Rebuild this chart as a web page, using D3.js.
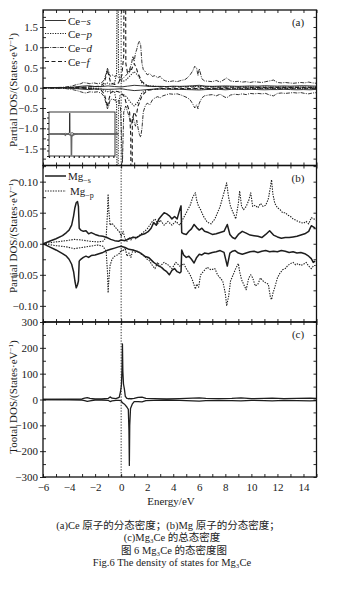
<!DOCTYPE html>
<html>
<head>
<meta charset="utf-8">
<script src="https://cdn.jsdelivr.net/npm/d3@7"></script>
<style>
  body { margin: 0; background: #fff; }
  svg { display: block; }
  text { font-family: "Liberation Serif", "DejaVu Serif", serif; fill: #1a1a1a; }
  .cjk { font-family: "Liberation Serif", "Noto Sans CJK SC", serif; }
</style>
</head>
<body>
<div class="svg-container"></div>
<script>
// energy tick labels (shared x axis)
const energyTicks = [-6, -4, -2, 0, 2, 4, 6, 8, 10, 12, 14];
const ceTicks = [-1.5, -1.0, -0.5, 0.0, 0.5, 1.0, 1.5];
const mgTicks = [-0.1, -0.05, 0.0, 0.05, 0.1];
const totTicks = [-300, -200, -100, 0, 100, 200, 300];

// each row: [energy (eV), spin up, spin down]
const ceS = [[-6,0,0],[-4.5,0.005,-0.005],[-4,0.01,-0.01],[-3.5,0.02,-0.02],[-3,0.04,-0.035],[-2.5,0.05,-0.045],[-2,0.03,-0.03],[-1.5,0.03,-0.035],[-1,0.045,-0.04],[-0.5,0.03,-0.035],[0,0.02,-0.025],[0.5,0.04,-0.05],[1,0.06,-0.07],[1.5,0.05,-0.06],[2,0.04,-0.045],[2.5,0.03,-0.035],[3,0.035,-0.03],[3.5,0.03,-0.035],[4,0.04,-0.04],[4.5,0.035,-0.04],[5,0.04,-0.045],[5.5,0.05,-0.05],[6,0.06,-0.055],[6.5,0.04,-0.045],[7,0.035,-0.04],[7.5,0.04,-0.04],[8,0.045,-0.05],[8.5,0.04,-0.04],[9,0.035,-0.04],[9.5,0.04,-0.045],[10,0.045,-0.04],[10.5,0.04,-0.045],[11,0.05,-0.05],[11.5,0.045,-0.045],[12,0.04,-0.045],[12.5,0.045,-0.04],[13,0.04,-0.045],[13.5,0.045,-0.05],[14,0.05,-0.045],[14.5,0.045,-0.05],[15,0.04,-0.04]];

const ceP = [[-6,0,0],[-3,0.01,-0.01],[-1.5,0.03,-0.03],[-1.1,0.12,-0.1],[-0.8,0.08,-0.08],[-0.5,0.12,-0.1],[-0.35,0.35,-0.4],[-0.27,5,-5],[-0.2,0.4,-0.45],[-0.1,0.2,-0.2],[0.1,0.15,-0.15],[0.4,0.2,-0.22],[0.7,0.3,-0.35],[1.0,0.4,-0.45],[1.3,0.3,-0.35],[1.6,0.12,-0.12],[2,0.05,-0.05],[3,0.03,-0.03],[6,0.03,-0.03],[10,0.02,-0.02],[15,0.02,-0.02]];

const ceD = [[-6,0,0],[-4.5,0.01,-0.01],[-3.8,0.04,-0.04],[-3.4,0.08,-0.07],[-3.1,0.1,-0.1],[-2.9,0.13,-0.12],[-2.7,0.12,-0.13],[-2.4,0.1,-0.1],[-2.1,0.12,-0.11],[-1.8,0.1,-0.1],[-1.5,0.12,-0.14],[-1.3,0.2,-0.22],[-1.15,0.35,-0.4],[-1.05,0.48,-0.52],[-0.95,0.4,-0.45],[-0.85,0.28,-0.3],[-0.7,0.32,-0.28],[-0.5,0.28,-0.3],[-0.35,0.3,-0.35],[-0.2,0.25,-0.3],[-0.05,0.2,-0.5],[0.1,0.22,-1.85],[0.2,0.25,-0.6],[0.35,0.3,-0.45],[0.5,0.35,-0.6],[0.65,0.45,-0.75],[0.8,0.6,-0.9],[0.9,0.78,-0.7],[1.0,0.65,-0.85],[1.1,0.85,-0.95],[1.2,0.95,-0.8],[1.3,1.08,-1.0],[1.4,1.15,-1.15],[1.5,1.05,-1.22],[1.6,0.6,-1.0],[1.7,0.45,-0.6],[1.85,0.4,-0.45],[2.0,0.32,-0.38],[2.2,0.35,-0.42],[2.4,0.28,-0.3],[2.6,0.3,-0.25],[2.8,0.25,-0.22],[3.0,0.28,-0.25],[3.2,0.2,-0.2],[3.4,0.17,-0.18],[3.7,0.15,-0.15],[4.0,0.17,-0.16],[4.3,0.15,-0.15],[4.6,0.18,-0.18],[4.9,0.2,-0.22],[5.1,0.25,-0.25],[5.3,0.32,-0.3],[5.5,0.42,-0.4],[5.65,0.53,-0.5],[5.8,0.48,-0.42],[5.9,0.3,-0.52],[6.0,0.47,-0.38],[6.2,0.22,-0.25],[6.4,0.17,-0.2],[6.7,0.16,-0.18],[7.0,0.15,-0.17],[7.3,0.18,-0.2],[7.6,0.14,-0.16],[7.9,0.2,-0.22],[8.1,0.24,-0.25],[8.4,0.17,-0.18],[8.7,0.15,-0.16],[9.0,0.16,-0.17],[9.3,0.14,-0.15],[9.6,0.15,-0.17],[9.9,0.13,-0.14],[10.2,0.15,-0.15],[10.5,0.14,-0.14],[10.8,0.13,-0.15],[11.1,0.15,-0.14],[11.4,0.17,-0.18],[11.7,0.19,-0.2],[12.0,0.13,-0.14],[12.3,0.12,-0.13],[12.6,0.13,-0.14],[12.9,0.12,-0.13],[13.2,0.11,-0.12],[13.5,0.12,-0.13],[13.8,0.13,-0.12],[14.1,0.12,-0.14],[14.4,0.14,-0.15],[14.7,0.12,-0.13],[15,0.11,-0.12]];

const ceF = [[-6,0,0],[-3,0.01,-0.01],[-1.6,0.04,-0.04],[-1.3,0.12,-0.15],[-1.15,0.3,-0.32],[-1.05,0.45,-0.48],[-0.95,0.3,-0.3],[-0.8,0.12,-0.12],[-0.5,0.08,-0.08],[-0.2,0.12,-0.1],[0.05,0.3,-0.15],[0.2,0.8,-0.2],[0.28,9.5,-0.25],[0.36,0.6,-0.35],[0.5,0.35,-0.45],[0.65,0.4,-0.6],[0.74,0.5,-1.2],[0.8,0.45,-9.8],[0.86,0.5,-0.8],[1.0,0.6,-0.6],[1.15,0.5,-0.7],[1.3,0.35,-0.45],[1.6,0.15,-0.2],[2,0.05,-0.06],[3,0.02,-0.02],[6,0.02,-0.02],[10,0.01,-0.01],[15,0.01,-0.01]];

const mgS = [[-6,0,0],[-5.5,0.004,-0.005],[-5,0.008,-0.01],[-4.5,0.013,-0.016],[-4.2,0.018,-0.02],[-4.0,0.022,-0.025],[-3.8,0.03,-0.033],[-3.65,0.045,-0.045],[-3.55,0.058,-0.06],[-3.45,0.066,-0.071],[-3.35,0.068,-0.066],[-3.28,0.06,-0.06],[-3.22,0.025,-0.028],[-3.1,0.022,-0.025],[-2.9,0.02,-0.022],[-2.7,0.021,-0.02],[-2.5,0.016,-0.022],[-2.3,0.018,-0.019],[-2.0,0.015,-0.018],[-1.7,0.013,-0.016],[-1.4,0.012,-0.014],[-1.1,0.01,-0.011],[-0.8,0.007,-0.009],[-0.5,0.005,-0.007],[-0.2,0.004,-0.005],[0,0.006,-0.004],[0.3,0.005,-0.006],[0.6,0.008,-0.009],[0.9,0.01,-0.01],[1.2,0.01,-0.012],[1.5,0.014,-0.015],[1.8,0.016,-0.02],[2.1,0.02,-0.022],[2.3,0.025,-0.026],[2.5,0.034,-0.03],[2.7,0.03,-0.033],[2.9,0.04,-0.036],[3.1,0.045,-0.038],[3.3,0.05,-0.042],[3.5,0.048,-0.045],[3.7,0.045,-0.05],[3.9,0.04,-0.043],[4.1,0.044,-0.04],[4.3,0.04,-0.045],[4.5,0.055,-0.047],[4.6,0.061,-0.045],[4.65,0.018,-0.01],[4.8,0.016,-0.018],[5.0,0.015,-0.022],[5.2,0.02,-0.02],[5.4,0.024,-0.025],[5.6,0.031,-0.031],[5.8,0.026,-0.022],[6.0,0.022,-0.017],[6.2,0.025,-0.018],[6.4,0.02,-0.015],[6.7,0.018,-0.016],[7.0,0.015,-0.014],[7.3,0.016,-0.013],[7.6,0.018,-0.011],[7.9,0.02,-0.014],[8.15,0.031,-0.036],[8.35,0.015,-0.015],[8.55,0.01,-0.012],[8.75,0.008,-0.011],[9.0,0.015,-0.015],[9.3,0.02,-0.017],[9.6,0.017,-0.015],[9.9,0.014,-0.013],[10.2,0.013,-0.012],[10.5,0.012,-0.014],[10.8,0.01,-0.012],[11.1,0.015,-0.011],[11.4,0.021,-0.013],[11.7,0.014,-0.012],[12.0,0.011,-0.013],[12.3,0.009,-0.011],[12.6,0.01,-0.012],[12.9,0.01,-0.014],[13.2,0.011,-0.013],[13.5,0.012,-0.015],[13.8,0.014,-0.014],[14.1,0.016,-0.016],[14.4,0.02,-0.02],[14.6,0.029,-0.024],[14.75,0.027,-0.03],[14.9,0.025,-0.028]];

const mgP = [[-6,0,0],[-5,0.003,-0.003],[-4.2,0.005,-0.005],[-3.6,0.007,-0.008],[-3.0,0.006,-0.006],[-2.4,0.004,-0.004],[-1.8,0.003,-0.002],[-1.4,0.004,-0.004],[-1.15,0.01,-0.012],[-1.05,0.05,-0.045],[-1.0,0.08,-0.079],[-0.95,0.055,-0.06],[-0.85,0.03,-0.035],[-0.7,0.033,-0.025],[-0.5,0.028,-0.02],[-0.3,0.023,-0.018],[-0.1,0.018,-0.015],[0,0.012,-0.01],[0.15,0.02,-0.012],[0.3,0.008,-0.006],[0.45,0.004,-0.02],[0.6,0.01,-0.015],[0.75,0.006,-0.022],[0.9,0.012,-0.01],[1.1,0.008,-0.014],[1.3,0.012,-0.012],[1.5,0.015,-0.016],[1.8,0.02,-0.02],[2.0,0.024,-0.025],[2.2,0.03,-0.028],[2.4,0.036,-0.035],[2.6,0.04,-0.04],[2.8,0.032,-0.03],[3.0,0.038,-0.036],[3.3,0.03,-0.03],[3.6,0.036,-0.034],[3.9,0.03,-0.04],[4.2,0.036,-0.03],[4.5,0.03,-0.036],[4.8,0.042,-0.032],[5.0,0.05,-0.04],[5.3,0.062,-0.05],[5.5,0.075,-0.06],[5.7,0.082,-0.073],[5.8,0.07,-0.065],[5.95,0.06,-0.07],[6.1,0.055,-0.05],[6.3,0.045,-0.045],[6.6,0.035,-0.038],[6.9,0.032,-0.042],[7.2,0.04,-0.04],[7.4,0.05,-0.05],[7.6,0.06,-0.055],[7.8,0.075,-0.06],[8.0,0.09,-0.08],[8.1,0.098,-0.1],[8.25,0.075,-0.085],[8.4,0.06,-0.06],[8.6,0.05,-0.05],[8.8,0.04,-0.04],[9.0,0.065,-0.032],[9.1,0.085,-0.045],[9.25,0.06,-0.058],[9.4,0.055,-0.065],[9.6,0.06,-0.074],[9.8,0.07,-0.055],[9.95,0.082,-0.05],[10.1,0.06,-0.055],[10.3,0.062,-0.068],[10.5,0.058,-0.065],[10.7,0.065,-0.055],[10.9,0.06,-0.06],[11.1,0.062,-0.063],[11.3,0.072,-0.065],[11.45,0.09,-0.085],[11.55,0.103,-0.09],[11.65,0.08,-0.08],[11.8,0.065,-0.07],[12.0,0.058,-0.055],[12.2,0.055,-0.047],[12.4,0.05,-0.042],[12.6,0.05,-0.04],[12.8,0.046,-0.035],[13.0,0.044,-0.032],[13.2,0.04,-0.03],[13.4,0.038,-0.034],[13.6,0.036,-0.032],[13.8,0.034,-0.035],[14.0,0.033,-0.033],[14.2,0.036,-0.03],[14.4,0.032,-0.036],[14.6,0.042,-0.04],[14.8,0.04,-0.035],[15,0.038,-0.035]];

const totalDos = [[-6,0,0],[-4,1,-1],[-3,2,-2],[-2.8,5,-4],[-2.6,7,-7],[-2.4,4,-5],[-2.0,2,-2],[-1.5,2,-2],[-1.0,4,-3],[-0.85,10,-8],[-0.7,5,-5],[-0.4,3,-3],[-0.15,8,-3],[-0.05,30,-4],[0.02,55,-6],[0.07,120,-10],[0.1,215,-12],[0.13,110,-14],[0.18,60,-15],[0.25,40,-18],[0.32,12,-22],[0.45,4,-30],[0.55,3,-38],[0.6,3,-120],[0.63,4,-255],[0.66,3,-100],[0.72,3,-35],[0.85,3,-18],[1.0,4,-8],[1.3,8,-8],[1.6,9,-9],[1.9,4,-4],[2.5,3,-3],[3.5,2,-2],[4.5,3,-3],[5.5,5,-5],[6.0,6,-6],[6.5,4,-4],[7.5,3,-3],[8.5,4,-4],[9.2,6,-5],[10,3,-3],[11,4,-4],[11.6,5,-5],[12.5,3,-3],[13.5,4,-4],[14.5,5,-5],[15,4,-4]];

const W = 354, H = 592;
const left = 43, right = 316.5;

const svg = d3
  .select(".svg-container")
  .append("svg")
  .attr("width", W)
  .attr("height", H)
  .attr("viewBox", `0 0 ${W} ${H}`);

// shared energy scale
const x = d3.scaleLinear().domain([-6, 15]).range([left, right]);

const panels = [
  { id: "a", top: 10, bottom: 165.5, domain: [-1.92, 1.92], labels: ceTicks, minor: 0.25, fmt: d3.format(".1f"), title: "Partial DOS/(States·eV", titleY: 90 },
  { id: "b", top: 165.5, bottom: 322, domain: [-0.126, 0.126], labels: mgTicks, minor: 0.025, fmt: d3.format(".2f"), title: "Partial DOS/(States·eV", titleY: 236 },
  { id: "c", top: 322, bottom: 477, domain: [-300, 300], labels: totTicks, minor: 50, fmt: d3.format("d"), title: "Tootal DOS/(States·eV", titleY: 397 },
];

panels.forEach((p) => {
  p.y = d3.scaleLinear().domain(p.domain).range([p.bottom, p.top]);
  svg
    .append("clipPath")
    .attr("id", "clip-" + p.id)
    .append("rect")
    .attr("x", left)
    .attr("y", p.top)
    .attr("width", right - left)
    .attr("height", p.bottom - p.top);
});

// Fermi level
svg
  .append("line")
  .attr("x1", x(0))
  .attr("x2", x(0))
  .attr("y1", 10)
  .attr("y2", 477)
  .attr("stroke", "#333")
  .attr("stroke-width", 1)
  .attr("stroke-dasharray", "1.3,1.5");

// draw a spin-up / spin-down pair
function drawSeries(data, style, yScale, g) {
  const up = d3.line().x((d) => x(d[0])).y((d) => yScale(d[1]));
  const dn = d3.line().x((d) => x(d[0])).y((d) => yScale(d[2]));
  [up, dn].forEach((ln) => {
    g.append("path")
      .datum(data)
      .attr("fill", "none")
      .attr("stroke", style.color || "#1e1e1e")
      .attr("stroke-width", style.width)
      .attr("stroke-dasharray", style.dash || null)
      .attr("stroke-linejoin", "round")
      .attr("d", ln);
  });
}

const styles = {
  s: { width: 0.9 },
  p: { width: 1.1, dash: "1.2,1.3" },
  d: { width: 0.9, dash: "4,1.2,1,1.2" },
  f: { width: 1.1, dash: "4,2.5" },
  mgs: { width: 1.5 },
  mgp: { width: 1.1, dash: "1.4,1.2" },
  tot: { width: 1.3 },
};

// panel (a)
const gA = svg.append("g").attr("clip-path", "url(#clip-a)");
drawSeries(ceS, styles.s, panels[0].y, gA);
drawSeries(ceD, styles.d, panels[0].y, gA);
drawSeries(ceP, styles.p, panels[0].y, gA);
drawSeries(ceF, styles.f, panels[0].y, gA);

// panel (b)
const gB = svg.append("g").attr("clip-path", "url(#clip-b)");
drawSeries(mgP, styles.mgp, panels[1].y, gB);
drawSeries(mgS, styles.mgs, panels[1].y, gB);

// panel (c)
const gC = svg.append("g").attr("clip-path", "url(#clip-c)");
drawSeries(totalDos, styles.tot, panels[2].y, gC);

// axes, ticks and frames
panels.forEach((p) => {
  const minors = d3.range(Math.ceil(p.domain[0] / p.minor) * p.minor, p.domain[1] + 1e-9, p.minor);

  // left labels + short outward ticks
  svg
    .append("g")
    .attr("transform", `translate(${left},0)`)
    .call(d3.axisLeft(p.y).tickValues(p.labels).tickSize(3).tickPadding(2).tickFormat(p.fmt))
    .call((g) => g.select(".domain").remove())
    .call((g) => g.selectAll("text").attr("font-size", 11).attr("font-family", "Liberation Serif").attr("fill", "#1a1a1a"));

  // inward ticks on left and right
  svg
    .append("g")
    .attr("transform", `translate(${left},0)`)
    .call(d3.axisRight(p.y).tickValues(minors).tickSize(3).tickFormat(""))
    .call((g) => g.select(".domain").remove());
  svg
    .append("g")
    .attr("transform", `translate(${right},0)`)
    .call(d3.axisLeft(p.y).tickValues(minors).tickSize(3).tickFormat(""))
    .call((g) => g.select(".domain").remove());

  // inward energy ticks at top and bottom
  svg
    .append("g")
    .attr("transform", `translate(0,${p.top})`)
    .call(d3.axisBottom(x).ticks(21).tickSize(3).tickFormat(""))
    .call((g) => g.select(".domain").remove());
  svg
    .append("g")
    .attr("transform", `translate(0,${p.bottom})`)
    .call(d3.axisTop(x).ticks(21).tickSize(3).tickFormat(""))
    .call((g) => g.select(".domain").remove());

  // frame
  svg
    .append("rect")
    .attr("x", left)
    .attr("y", p.top)
    .attr("width", right - left)
    .attr("height", p.bottom - p.top)
    .attr("fill", "none")
    .attr("stroke", "#111")
    .attr("stroke-width", 1.3);

  // y axis title
  const t = svg
    .append("text")
    .attr("transform", `translate(17,${p.titleY}) rotate(-90)`)
    .attr("text-anchor", "middle")
    .attr("font-size", 11);
  t.append("tspan").text(p.title);
  t.append("tspan").attr("dy", -4).attr("font-size", 7).text("−1");
  t.append("tspan").attr("dy", 4).text(")");

  // panel tag
  svg
    .append("text")
    .attr("x", 298)
    .attr("y", p.top + 16)
    .attr("text-anchor", "middle")
    .attr("font-size", 11)
    .text(`(${p.id})`);
});

svg.selectAll(".tick line").attr("stroke", "#111").attr("stroke-width", 0.9);

// energy labels at the bottom
svg
  .append("g")
  .attr("transform", `translate(0,477)`)
  .call(d3.axisBottom(x).tickValues(energyTicks).tickSize(0).tickPadding(6).tickFormat(d3.format("d")))
  .call((g) => g.select(".domain").remove())
  .call((g) => g.selectAll("text").attr("font-size", 11).attr("font-family", "Liberation Serif").attr("fill", "#1a1a1a"));

// inset of panel (a): Ce-f at full scale
const ix = d3.scaleLinear().domain([-6, 14]).range([49, 115]);
const iy = d3.scaleLinear().domain([-10, 10]).range([156, 112]);
const inset = svg.append("g");
inset
  .append("rect")
  .attr("x", 49)
  .attr("y", 112)
  .attr("width", 66)
  .attr("height", 44)
  .attr("fill", "#fff")
  .attr("stroke", "#222")
  .attr("stroke-width", 0.9);
inset
  .append("g")
  .attr("transform", "translate(49,0)")
  .call(d3.axisLeft(iy).tickValues(d3.range(-10, 10.1, 2.5)).tickSize(2).tickFormat(""))
  .call((g) => g.select(".domain").remove());
inset
  .append("g")
  .attr("transform", "translate(0,156)")
  .call(d3.axisBottom(ix).tickValues(d3.range(-6, 14.1, 1.5)).tickSize(2).tickFormat(""))
  .call((g) => g.select(".domain").remove());
inset.selectAll(".tick line").attr("stroke", "#222").attr("stroke-width", 1.2);
const iline = (k) => d3.line().x((d) => ix(d[0])).y((d) => iy(d[k]));
inset.append("path").datum(ceF).attr("fill", "none").attr("stroke", "#222").attr("stroke-width", 0.9).attr("d", iline(1));
inset.append("path").datum(ceF).attr("fill", "none").attr("stroke", "#666").attr("stroke-width", 1.6).attr("d", iline(2));

// legends
function legendItem(lx, ly, style, parts) {
  svg
    .append("line")
    .attr("x1", 45)
    .attr("x2", 66)
    .attr("y1", ly)
    .attr("y2", ly)
    .attr("stroke", "#1e1e1e")
    .attr("stroke-width", style.width)
    .attr("stroke-dasharray", style.dash || null);
  const t = svg.append("text").attr("x", lx).attr("y", ly + 4).attr("font-size", 11);
  parts.forEach((pt) => {
    const s = t.append("tspan").text(pt.text);
    if (pt.italic) s.attr("font-style", "italic");
    if (pt.sub) s.attr("font-size", 8).attr("dy", 2.5);
  });
}
legendItem(68, 20.5, styles.s, [{ text: "Ce−" }, { text: "s", italic: true }]);
legendItem(68, 33.5, styles.p, [{ text: "Ce−" }, { text: "p", italic: true }]);
legendItem(68, 47.5, styles.d, [{ text: "Ce−" }, { text: "d", italic: true }]);
legendItem(68, 61.5, styles.f, [{ text: "Ce−" }, { text: "f", italic: true }]);
legendItem(68, 176, styles.mgs, [{ text: "Mg" }, { text: "−s", sub: true }]);
legendItem(70, 191, styles.mgp, [{ text: "Mg" }, { text: "−p", sub: true }]);

// caption block
const cap = svg.append("g").attr("text-anchor", "middle");
cap.append("text").attr("x", 171).attr("y", 505).attr("font-size", 11).text("Energy/eV");
cap.append("text").attr("class", "cjk").attr("x", 168).attr("y", 528.5).attr("font-size", 10.5)
  .text("(a)Ce 原子的分态密度；(b)Mg 原子的分态密度；");
cap.append("text").attr("class", "cjk").attr("x", 172).attr("y", 541).attr("font-size", 10.5)
  .text("(c)Mg₃Ce 的总态密度");
cap.append("text").attr("class", "cjk").attr("x", 174).attr("y", 553.5).attr("font-size", 10.5)
  .text("图 6  Mg₃Ce 的态密度图");
cap.append("text").attr("x", 172).attr("y", 566).attr("font-size", 10.5)
  .text("Fig.6  The density of states for Mg₃Ce");
</script>
</body>
</html>
